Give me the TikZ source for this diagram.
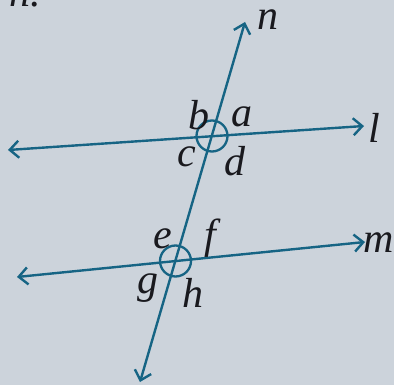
\documentclass[tikz,border=0pt]{standalone}
\usepackage{fontspec}
\setmainfont{Liberation Serif}
\usetikzlibrary{arrows.meta}
\definecolor{bgc}{RGB}{204,211,219}
\definecolor{linec}{RGB}{22,100,132}
\definecolor{txtc}{RGB}{25,25,30}
\begin{document}
\begin{tikzpicture}[x=1pt,y=-1pt,
  ln/.style={draw=linec,line width=2.4pt,{Straight Barb[length=9pt,width=17pt,line width=2.4pt]}-{Straight Barb[length=9pt,width=17pt,line width=2.4pt]}},
  ring/.style={circle,draw=linec,line width=2.3pt,minimum size=31pt,inner sep=0pt},
  lab/.style={text=txtc,inner sep=0pt,font=\fontsize{42}{42}\selectfont\itshape}]
\useasboundingbox (0,0) rectangle (394,385);
\clip (0,0) rectangle (394,385);
\fill[bgc] (0,0) rectangle (394,385);
\coordinate (lL) at (8,150);
\coordinate (lR) at (364,126);
\coordinate (mL) at (17,277);
\coordinate (mR) at (365,242);
\coordinate (nB) at (140,382);
\coordinate (nT) at (245,22);
\node[ring] (c1) at (212,136) {};
\node[ring] (c2) at (175.5,261) {};
\draw[ln] (lL) -- (lR);
\draw[ln] (mL) -- (mR);
\draw[ln] (nB) -- (nT);
\node[lab,anchor=base west] (top) at (9,7) {n.};
\node[lab] (tn) at (268,20) {n};
\node[lab] (tl) at (374,128) {l};
\node[lab] (tm) at (379,243) {m};
\node[lab] (ta) at (242,117) {a};
\node[lab] (tb) at (199,115) {b};
\node[lab] (tc) at (187,157) {c};
\node[lab] (td) at (235,161) {d};
\node[lab] (te) at (163,239) {e};
\node[lab] (tf) at (210,238) {f};
\node[lab] (tg) at (148,288) {g};
\node[lab] (th) at (193,293) {h};
\end{tikzpicture}
\end{document}
